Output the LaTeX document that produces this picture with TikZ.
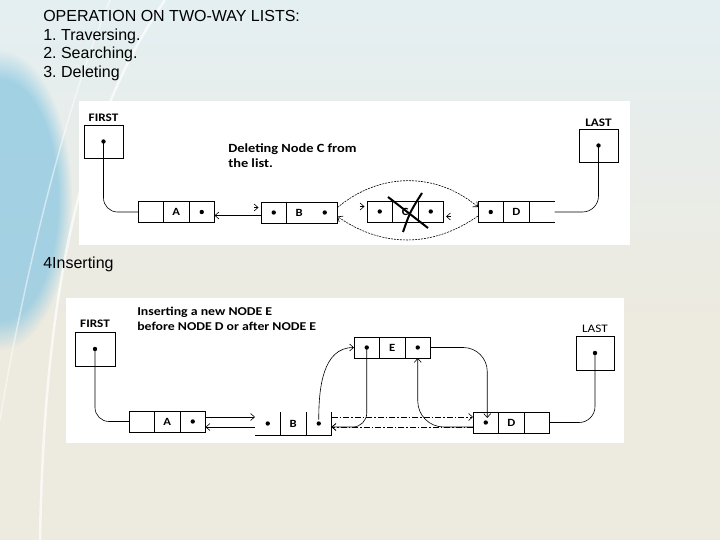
\documentclass[tikz,border=0pt]{standalone}
\usepackage{fontspec}
\setmainfont{Liberation Sans}
\newfontfamily\calfont[FakeStretch=1.15]{Carlito}
\usetikzlibrary{arrows.meta, positioning, calc, fadings}
\frenchspacing

\definecolor{slidetop}{RGB}{228,239,242}
\definecolor{slidebottom}{RGB}{237,234,223}
\definecolor{slideblue}{RGB}{140,200,226}

\newcommand{\cellw}{25.5pt}
\newcommand{\cellh}{21pt}

\tikzset{cell/.style={draw, minimum width=\cellw, minimum height=\cellh, inner sep=0pt, outer sep=0pt, font=\calfont\bfseries\fontsize{11}{13}\selectfont}}
\tikzset{bare/.style={cell, draw=none}}
\tikzset{ptr/.style={path picture={\fill (path picture bounding box.center) circle (2.2pt);}}}
\tikzset{headbox/.style={draw, ptr, minimum width=39pt, minimum height=33pt, inner sep=0pt, outer sep=0pt}}
\tikzset{headlabel/.style={font=\calfont\bfseries\fontsize{11.5}{13}\selectfont, inner sep=1pt}}
\tikzset{note/.style={font=\calfont\bfseries\fontsize{12.5}{15}\selectfont, align=left, anchor=north west, inner sep=0pt}}
\tikzset{slidetext/.style={font=\fontsize{16}{18.7}\selectfont, align=left, anchor=north west, inner sep=0pt}}
\tikzset{next/.style={-{Straight Barb[length=4pt, width=7pt]}, line width=0.6pt}}
\tikzset{erased/.style={dash pattern=on 2pt off 1pt, line width=0.5pt}}
\tikzset{dashdot/.style={dash pattern=on 6pt off 2pt on 1.5pt off 2pt}}

\begin{document}
\begin{tikzpicture}[x=1pt, y=-1pt, line width=0.6pt]

  % --- slide background ---
  \useasboundingbox (0,0) rectangle (720,540);
  \fill[slidebottom] (0,0) rectangle (720,540);
  \shade[top color=slidetop, bottom color=slidebottom] (0,0) rectangle (720,330);
  \fill[slideblue, opacity=0.75, path fading=circle with fuzzy edge 20 percent] (0,200) ellipse (72 and 150);
  \draw[white, line width=2.5pt, opacity=0.7] (165,0) .. controls (90,110) and (45,260) .. (40,540);
  \draw[white, line width=1.5pt, opacity=0.5] (110,0) .. controls (60,120) and (20,300) .. (0,420);

  % --- slide text ---
  \node[slidetext] (title) at (43,10) {OPERATION ON TWO-WAY LISTS:\\1. Traversing.\\2. Searching.\\3. Deleting};
  \node[slidetext] (ins) at (43,257) {4Inserting};

  % --- deleting C ---
  \fill[white] (79,101) rectangle (630,245);

  \node[headbox] (dFirst) at (103.5,141.5) {};
  \node[headlabel, above=2pt of dFirst] (dFirstL) {FIRST};
  \node[headbox] (dLast) at (598.5,145.5) {};
  \node[headlabel, above=1pt of dLast] (dLastL) {LAST};

  \node[cell] (dA1) at (150.75,212) {};
  \node[cell, right=0pt of dA1] (dA2) {A};
  \node[cell, ptr, right=0pt of dA2] (dA3) {};

  \node[cell, ptr] (dB1) at (273.75,212.5) {};
  \node[bare, right=0pt of dB1] (dB2) {B};
  \node[bare, ptr, right=0pt of dB2] (dB3) {};
  \draw (dB2.north west) rectangle (dB3.south east);

  \node[cell, ptr] (dC1) at (379.75,211.5) {};
  \node[cell, right=0pt of dC1] (dC2) {C};
  \node[cell, ptr, right=0pt of dC2] (dC3) {};

  \node[cell, ptr] (dD1) at (490.75,212) {};
  \node[cell, right=0pt of dD1] (dD2) {D};
  \node[bare, right=0pt of dD2] (dD3) {};
  \draw (dD3.north west) -- (dD3.north east)
        (dD3.south west) -- (dD3.south east);

  \node[note] (dNote) at (228,143.5) {Deleting Node C from\\the list.};

  \draw[rounded corners=14pt] (dFirst.center) |- (dA1.west);
  \draw[rounded corners=16pt] (dLast.center) |- (dD3.east);
  \draw[next] ([yshift=-3pt]dB1.west) -- ([yshift=-3pt]dB1.west -| dA3.east);
  \draw[erased, next] ([yshift=5pt]dB3.east) to[out=40, in=140] ([yshift=5pt]dD1.west);
  \draw[erased, next] ([yshift=-4pt]dD1.west) to[out=-145, in=-35] ([yshift=-4pt]dB3.east);

  % left-over tips
  \draw[next] ([xshift=-7pt, yshift=5pt]dB1.west) -- ++(4.5,0);
  \draw[next] ([xshift=-7pt, yshift=5pt]dC1.west) -- ++(4.5,0);
  \draw[next] ([xshift=7pt, yshift=-5pt]dC3.east) -- ++(-4.5,0);

  % cross over C
  \draw[line width=2pt] (388,197) -- (428,228);
  \draw[line width=2pt] (422,193) .. controls (410,212) .. (403,232);

  % --- inserting E ---
  \fill[white] (66,298) rectangle (624,443);

  \node[headbox, minimum width=40pt, minimum height=34pt] (iFirst) at (95,349) {};
  \node[headlabel, above=3pt of iFirst] (iFirstL) {FIRST};
  \node[headbox, minimum width=38pt, minimum height=34pt] (iLast) at (595,353) {};
  \node[headlabel, above=2pt of iLast, font=\calfont\fontsize{11.5}{13}\selectfont] (iLastL) {LAST};

  \node[cell] (iA1) at (141.75,421.5) {};
  \node[cell, right=0pt of iA1] (iA2) {A};
  \node[cell, ptr, right=0pt of iA2] (iA3) {};

  \node[bare, ptr, minimum height=23pt] (iB1) at (267.75,423.5) {};
  \node[bare, minimum height=23pt, right=0pt of iB1] (iB2) {B};
  \node[bare, ptr, minimum height=23pt, right=0pt of iB2] (iB3) {};
  \draw (iB1.south west) -- (iB3.south east);
  \draw (iB1.north east) -- (iB1.south east)
        (iB2.north east) -- (iB2.south east)
        (iB3.north east) -- (iB3.south east);

  \node[cell, ptr] (iE1) at (366.75,347.5) {};
  \node[cell, right=0pt of iE1] (iE2) {E};
  \node[cell, ptr, right=0pt of iE2] (iE3) {};

  \node[cell, ptr] (iD1) at (485.75,422.5) {};
  \node[cell, right=0pt of iD1] (iD2) {D};
  \node[cell, right=0pt of iD2] (iD3) {};

  \node[note, font=\calfont\bfseries\fontsize{12}{14.5}\selectfont] (iNote) at (137,307) {Inserting a new NODE E\\before NODE D or after NODE E};

  \draw[rounded corners=14pt] (iFirst.center) |- (iA1.west);
  \draw[rounded corners=16pt] (iLast.center) |- (iD3.east);
  \draw[next] ([yshift=4.5pt]iA3.east) -- ([yshift=4.5pt]iA3.east -| iB1.west);
  \draw[next] ([yshift=-5.5pt]iA3.east -| iB1.west) -- ([yshift=-5.5pt]iA3.east);

  \draw[next] ([yshift=4pt]iB3.center) to[out=90, in=180] (iE1.west);
  \draw[next, rounded corners=14pt] (iE1.center) |- ([yshift=-3.5pt]iB3.east);
  \draw[next, rounded corners=24pt] (iE3.east) -| ([xshift=1.5pt, yshift=-6pt]iD1.north);
  \draw[next, rounded corners=26pt] ([yshift=-4.5pt]iD1.west) -| (iE3.south);
  \draw[dashdot, next] ([yshift=6.5pt]iB3.east) -- ([yshift=6.5pt]iB3.east -| iD1.west);
  \draw[dashdot, next] ([yshift=-3.5pt]iB3.east -| iD1.west) -- ([yshift=-3.5pt]iB3.east);

\end{tikzpicture}
\end{document}
